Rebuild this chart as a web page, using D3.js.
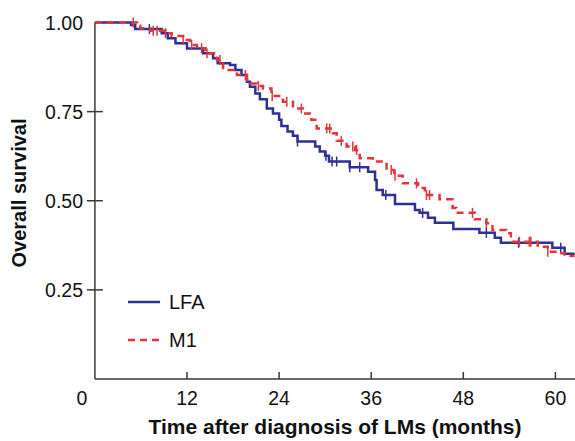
<!DOCTYPE html>
<html>
<head>
<meta charset="utf-8">
<script src="https://cdn.jsdelivr.net/npm/d3@7"></script>
<style>
  body { margin: 0; background: #fff; }
  text { font-family: Arial, "Liberation Sans", sans-serif; }
</style>
</head>
<body>
<div class="kmChart"></div>
<script>
// x ticks (months) and y ticks (survival)
const xTicks = [0, 12, 24, 36, 48, 60];
const yTicks = [0.25, 0.50, 0.75, 1.00];

// LFA: step times (months) and survival after each step
const lfaTimes = [0, 4.7, 5.25, 8.7, 9.5, 10.5, 12.0, 14.1, 15.4, 16.0, 17.6, 18.3, 19.1, 19.8, 20.2, 20.9,
  21.5, 22.4, 23.2, 24.0, 24.3, 25.1, 25.8, 26.4, 28.7, 29.3, 30.0, 30.5, 33.2, 35.6, 36.5, 36.7,
  37.5, 39.1, 41.7, 42.3, 43.4, 44.3, 46.7, 50.1, 52.1, 52.9, 59.6, 61.2, 62.5];
const lfaSurv = [1.0, 0.993, 0.982, 0.970, 0.956, 0.942, 0.927, 0.914, 0.900, 0.886, 0.881, 0.867, 0.853, 0.834, 0.820, 0.801,
  0.785, 0.759, 0.745, 0.727, 0.710, 0.694, 0.682, 0.666, 0.652, 0.638, 0.626, 0.610, 0.594, 0.581, 0.558, 0.530,
  0.516, 0.491, 0.474, 0.466, 0.452, 0.438, 0.421, 0.410, 0.396, 0.382, 0.368, 0.351, 0.351];
const lfaCensor = [7.1, 26.4, 30.1, 30.9, 31.5, 33.2, 34.5, 37.9, 42.7, 51.0, 55.2, 60.7];

// M1
const m1Times = [0, 5.5, 5.9, 7.2, 9.2, 10.0, 11.5, 12.4, 13.3, 14.4, 15.9, 16.7, 18.5, 19.8, 20.2, 21.1,
  21.9, 23.0, 24.5, 25.8, 27.1, 28.2, 28.9, 31.0, 31.5, 32.8, 33.9, 34.5, 36.2, 38.0, 39.0, 40.1,
  42.1, 43.0, 44.9, 46.6, 47.1, 49.5, 51.0, 51.8, 53.6, 54.2, 57.7, 59.0, 60.5, 61.2, 62.5];
const m1Surv = [1.0, 0.991, 0.984, 0.977, 0.970, 0.962, 0.951, 0.937, 0.928, 0.914, 0.895, 0.867, 0.853, 0.839, 0.829, 0.822,
  0.815, 0.794, 0.778, 0.759, 0.745, 0.727, 0.703, 0.689, 0.668, 0.652, 0.642, 0.619, 0.610, 0.586, 0.570, 0.549,
  0.536, 0.516, 0.504, 0.480, 0.466, 0.448, 0.437, 0.418, 0.409, 0.385, 0.371, 0.357, 0.353, 0.345, 0.345];
const m1Censor = [5.0, 7.6, 8.1, 9.2, 11.5, 12.6, 13.9, 14.6, 16.3, 19.6, 21.3, 23.1, 25.0, 26.9, 30.2, 30.6,
  32.1, 33.6, 34.1, 38.6, 39.1, 41.9, 43.2, 43.6, 49.2, 51.0, 55.3, 56.6, 56.8, 59.0];

const seriesNames = ["LFA", "M1"];

const blue = "#2e3192", red = "#e2363c";
const width = 575, height = 441;

const svg = d3.select(".kmChart").append("svg")
  .attr("width", width).attr("height", height);

const x = d3.scaleLinear().domain([0, 62.5]).range([94.9, 574.6]);
const y = d3.scaleLinear().domain([0, 1]).range([379, 22.5]);

// survival at a given time (step lookup)
function survAt(times, surv, t){
  let i = d3.bisectRight(times, t) - 1;
  return surv[Math.max(0, i)];
}

// axes
const axisColor = "#3a3a3a";
svg.append("line").attr("x1", x(0)).attr("x2", width).attr("y1", y(0)).attr("y2", y(0))
  .attr("stroke", axisColor).attr("stroke-width", 1.5);
svg.append("line").attr("x1", x(0)).attr("x2", x(0)).attr("y1", y(0)).attr("y2", y(1))
  .attr("stroke", axisColor).attr("stroke-width", 1.5);

// x ticks point up into the plot
svg.selectAll(".xtick").data(xTicks.filter(d => d > 0)).join("line")
  .attr("x1", d => x(d)).attr("x2", d => x(d))
  .attr("y1", y(0)).attr("y2", y(0) - 7)
  .attr("stroke", axisColor).attr("stroke-width", 1.5);

svg.selectAll(".xlab").data(xTicks).join("text")
  .attr("x", d => x(d) + (d === 0 ? -13 : 0))
  .attr("y", 405)
  .attr("text-anchor", "middle")
  .attr("font-size", "19.5px")
  .attr("fill", "#111")
  .text(d => d);

// y ticks cross the axis
svg.selectAll(".ytick").data(yTicks.filter(d => d < 1)).join("line")
  .attr("x1", x(0) - 8).attr("x2", x(0) + 8)
  .attr("y1", d => y(d)).attr("y2", d => y(d))
  .attr("stroke", axisColor).attr("stroke-width", 1.5);

svg.selectAll(".ylab").data(yTicks).join("text")
  .attr("x", 83)
  .attr("y", d => y(d) + 7)
  .attr("text-anchor", "end")
  .attr("font-size", "19.5px")
  .attr("fill", "#111")
  .text(d => d.toFixed(2));

// axis titles
svg.append("text")
  .text("Time after diagnosis of LMs (months)")
  .attr("x", 335).attr("y", 434)
  .attr("text-anchor", "middle")
  .attr("font-size", "21px").attr("font-weight", "bold").attr("fill", "#111");

svg.append("text")
  .text("Overall survival")
  .attr("transform", "translate(26,193) rotate(-90)")
  .attr("text-anchor", "middle")
  .attr("font-size", "20px").attr("font-weight", "bold").attr("fill", "#111");

// curves
const line = d3.line().curve(d3.curveStepAfter).x(d => x(d[0])).y(d => y(d[1]));

function drawSeries(times, surv, censor, color, dash){
  const pts = times.map((t, i) => [t, surv[i]]);
  svg.append("path").datum(pts)
    .attr("d", line)
    .attr("fill", "none")
    .attr("stroke", color)
    .attr("stroke-width", 2.5)
    .attr("stroke-dasharray", dash);
  svg.selectAll(null).data(censor).join("line")
    .attr("x1", d => x(d)).attr("x2", d => x(d))
    .attr("y1", d => y(survAt(times, surv, d)) - 5)
    .attr("y2", d => y(survAt(times, surv, d)) + 5)
    .attr("stroke", color).attr("stroke-width", 1.5);
}

drawSeries(lfaTimes, lfaSurv, lfaCensor, blue, null);
drawSeries(m1Times, m1Surv, m1Censor, red, "7,5");

// legend
const legend = [
  {name: seriesNames[0], color: blue, dash: null, y: 302},
  {name: seriesNames[1], color: red, dash: "7,5", y: 340}
];
legend.forEach(l => {
  svg.append("line").attr("x1", 128).attr("x2", 160).attr("y1", l.y).attr("y2", l.y)
    .attr("stroke", l.color).attr("stroke-width", 2.5).attr("stroke-dasharray", l.dash);
  svg.append("text").text(l.name)
    .attr("x", 169).attr("y", l.y + 7)
    .attr("font-size", "20px").attr("fill", "#111");
});
</script>
</body>
</html>
